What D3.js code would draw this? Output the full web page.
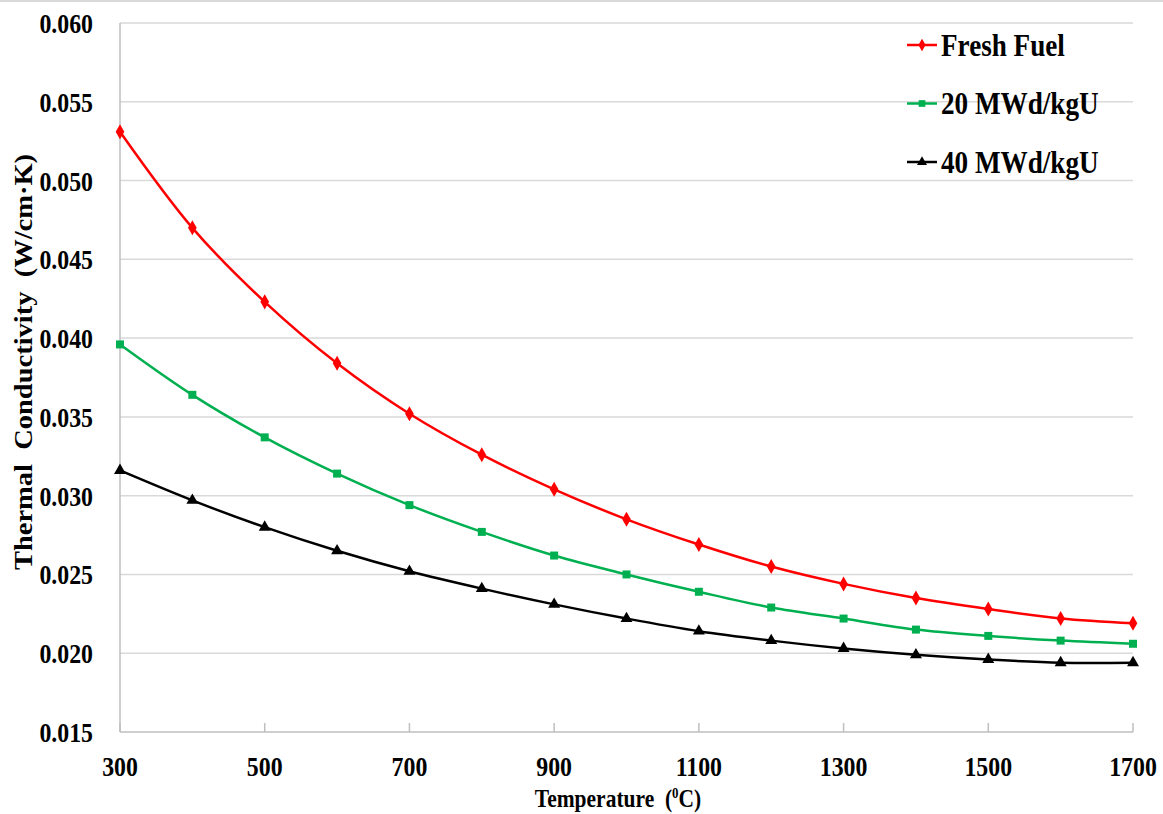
<!DOCTYPE html>
<meta charset="utf-8">
<script src="https://d3js.org/d3.v7.min.js"></script>
<style>
  body { margin: 0; background: #fff; }
  text { font-family: "Liberation Serif", "Times New Roman", serif; font-weight: bold; fill: #000; }
</style>
<div id="chart"></div>
<script>
  // data
  var temps = [300, 400, 500, 600, 700, 800, 900, 1000, 1100, 1200, 1300, 1400, 1500, 1600, 1700];
  var freshFuel = [0.0531, 0.0470, 0.0423, 0.0384, 0.0352, 0.0326, 0.0304, 0.0285, 0.0269, 0.0255, 0.0244, 0.0235, 0.0228, 0.0222, 0.0219];
  var burn20 = [0.0396, 0.0364, 0.0337, 0.0314, 0.0294, 0.0277, 0.0262, 0.0250, 0.0239, 0.0229, 0.0222, 0.0215, 0.0211, 0.0208, 0.0206];
  var burn40 = [0.0316, 0.0297, 0.0280, 0.0265, 0.0252, 0.0241, 0.0231, 0.0222, 0.0214, 0.0208, 0.0203, 0.0199, 0.0196, 0.0194, 0.0194];
  var seriesNames = ["Fresh Fuel", "20 MWd/kgU", "40 MWd/kgU"];
  var xTicks = [300, 500, 700, 900, 1100, 1300, 1500, 1700];
  var yTicks = [0.015, 0.020, 0.025, 0.030, 0.035, 0.040, 0.045, 0.050, 0.055, 0.060];

  var W = 1163, H = 814;
  var pLeft = 120, pRight = 1133, pTop = 23, pBottom = 732;

  var svg = d3.select("#chart").append("svg")
    .attr("width", W).attr("height", H);

  var x = d3.scaleLinear().domain([300, 1700]).range([pLeft, pRight]);
  var y = d3.scaleLinear().domain([0.015, 0.060]).range([pBottom, pTop]);

  // helper: squeezed serif text like the original
  function label(g, tx, ty, str, size, sx, anchor) {
    return g.append("text")
      .attr("transform", "translate(" + tx + "," + ty + ") scale(" + sx + ",1)")
      .attr("text-anchor", anchor)
      .style("font-size", size + "px")
      .text(str);
  }

  // top border of chart area
  svg.append("line")
    .attr("x1", 0).attr("x2", W).attr("y1", 1).attr("y2", 1)
    .attr("stroke", "#d9d9d9").attr("stroke-width", 2);

  // gridlines
  svg.append("g").selectAll("line")
    .data(yTicks.slice(1))
    .enter().append("line")
      .attr("x1", pLeft).attr("x2", pRight)
      .attr("y1", function(d) { return y(d); })
      .attr("y2", function(d) { return y(d); })
      .attr("stroke", "#d9d9d9").attr("stroke-width", 1.5);

  // axes
  svg.append("line")
    .attr("x1", pLeft).attr("x2", pLeft).attr("y1", pTop).attr("y2", pBottom)
    .attr("stroke", "#bfbfbf").attr("stroke-width", 1.5);
  svg.append("line")
    .attr("x1", pLeft).attr("x2", pRight).attr("y1", pBottom).attr("y2", pBottom)
    .attr("stroke", "#bfbfbf").attr("stroke-width", 1.5);
  svg.append("g").selectAll("line")
    .data(xTicks)
    .enter().append("line")
      .attr("x1", function(d) { return x(d); })
      .attr("x2", function(d) { return x(d); })
      .attr("y1", pBottom).attr("y2", pBottom - 9)
      .attr("stroke", "#bfbfbf").attr("stroke-width", 1.5);

  // tick labels
  var ylab = svg.append("g");
  yTicks.forEach(function(d) {
    label(ylab, 93, y(d) + 10, d3.format(".3f")(d), 26.5, 0.9, "end");
  });
  var xlab = svg.append("g");
  xTicks.forEach(function(d) {
    label(xlab, x(d), pBottom + 44, d, 26.5, 0.9, "middle");
  });

  // axis titles
  var xt = label(svg, 618, 807, "", 25, 0.86, "middle");
  xt.append("tspan").text("Temperature\u00a0 (");
  xt.append("tspan").attr("dy", -9).style("font-size", "15px").text("0");
  xt.append("tspan").attr("dy", 9).text("C)");

  svg.append("text")
    .attr("transform", "translate(32,362) scale(0.85,1) rotate(-90)")
    .attr("text-anchor", "middle")
    .style("font-size", "28.5px")
    .text("Thermal\u00a0 Conductivity\u00a0 (W/cm\u00b7K)");

  // series
  var series = [
    { name: seriesNames[0], values: freshFuel, color: "#ff0000", shape: d3.symbolDiamond, size: 65 },
    { name: seriesNames[1], values: burn20, color: "#00b050", shape: d3.symbolSquare, size: 64 },
    { name: seriesNames[2], values: burn40, color: "#000000", shape: d3.symbolTriangle, size: 62 }
  ];

  var line = d3.line()
    .x(function(d, i) { return x(temps[i]); })
    .y(function(d) { return y(d); })
    .curve(d3.curveCatmullRom.alpha(0.5));

  series.forEach(function(s) {
    svg.append("path")
      .attr("d", line(s.values))
      .attr("fill", "none")
      .attr("stroke", s.color)
      .attr("stroke-width", 2.5);
    svg.append("g").selectAll("path")
      .data(s.values)
      .enter().append("path")
        .attr("transform", function(d, i) { return "translate(" + x(temps[i]) + "," + y(d) + ")"; })
        .attr("d", d3.symbol().type(s.shape).size(s.size))
        .attr("fill", s.color);
  });

  // legend
  series.forEach(function(s, i) {
    var ly = 45 + i * 58.5;
    svg.append("line")
      .attr("x1", 907).attr("x2", 937).attr("y1", ly).attr("y2", ly)
      .attr("stroke", s.color).attr("stroke-width", 2.5);
    svg.append("path")
      .attr("transform", "translate(922," + ly + ")")
      .attr("d", d3.symbol().type(s.shape).size(s.size * 0.7))
      .attr("fill", s.color);
    label(svg, 941, ly + 10.5, s.name, 30.5, 0.89, "start");
  });
</script>
